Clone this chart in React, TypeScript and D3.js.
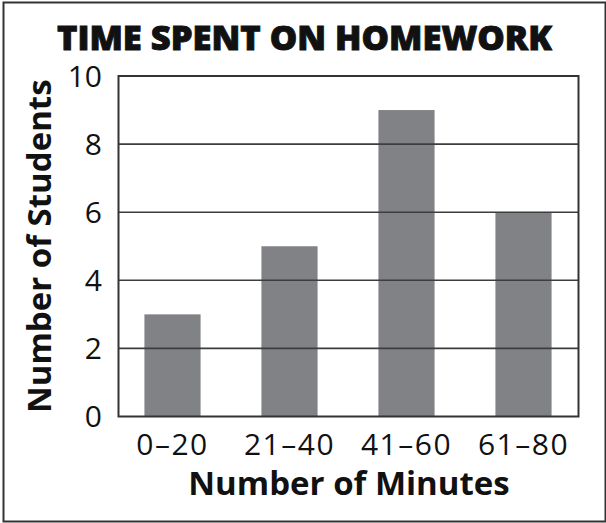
// bar chart: time spent on homework
import * as d3 from 'd3';

const categories = ['0–20', '21–40', '41–60', '61–80'];
const students = [3, 5, 9, 6];
const yTicks = [0, 2, 4, 6, 8, 10];

const title = 'TIME SPENT ON HOMEWORK';
const xTitle = 'Number of Minutes';
const yTitle = 'Number of Students';

export default function App() {
    const width = 606;
    const height = 523;
    // plot area
    const left = 118.5;
    const right = 578.5;
    const top = 76;
    const bottom = 416.5;
    const font = '"Open Sans", "Noto Sans", sans-serif';

    const x = d3.scaleBand()
        .domain(categories)
        .range([114, 582])
        .paddingInner(0.52)
        .paddingOuter(0.26);
    const y = d3.scaleLinear()
        .domain([0, 10])
        .range([bottom, top]);

    return (
        <svg width={width} height={height}
             style={{ position: 'absolute', left: 0, top: 0, background: '#fff' }}>
            {/* outer frame */}
            <rect x={3.5} y={2.5} width={602} height={519}
                  fill="#fff" stroke="#333" strokeWidth={2} />
            <text x={57} y={50} textLength={495} lengthAdjust="spacingAndGlyphs"
                  fontFamily={font} fontWeight={800} fontSize={33}
                  fill="#111" stroke="#111" strokeWidth={0.9}>{title}</text>
            {/* bars */}
            {students.map((v, i) => (
                <rect key={categories[i]} x={x(categories[i])} y={y(v)}
                      width={x.bandwidth()} height={y(0) - y(v)} fill="#818285" />
            ))}
            {/* gridlines over the bars */}
            {yTicks.filter(t => t > 0 && t < 10).map(t => (
                <line key={t} x1={left} x2={right} y1={y(t)} y2={y(t)}
                      stroke="#3d3d3d" strokeWidth={1.6} />
            ))}
            <rect x={left} y={top} width={right - left} height={bottom - top}
                  fill="none" stroke="#333" strokeWidth={2} />
            {/* y tick labels */}
            {yTicks.map(t => (
                <text key={t} x={102} y={y(t) + 10.5} textAnchor="end"
                      fontFamily={font} fontSize={30} fill="#111">{t}</text>
            ))}
            {/* x tick labels */}
            {categories.map(c => (
                <text key={c} x={x(c) + x.bandwidth() / 2} y={455} textAnchor="middle"
                      fontFamily={font} fontSize={30} letterSpacing={1.5} fill="#111">{c}</text>
            ))}
            <text x={349} y={495} textAnchor="middle" fontFamily={font}
                  fontWeight={700} fontSize={33} fill="#111">{xTitle}</text>
            <text transform={`translate(51,${(top + bottom) / 2}) rotate(-90)`}
                  textAnchor="middle" fontFamily={font}
                  fontWeight={700} fontSize={33} fill="#111">{yTitle}</text>
        </svg>
    );
}
